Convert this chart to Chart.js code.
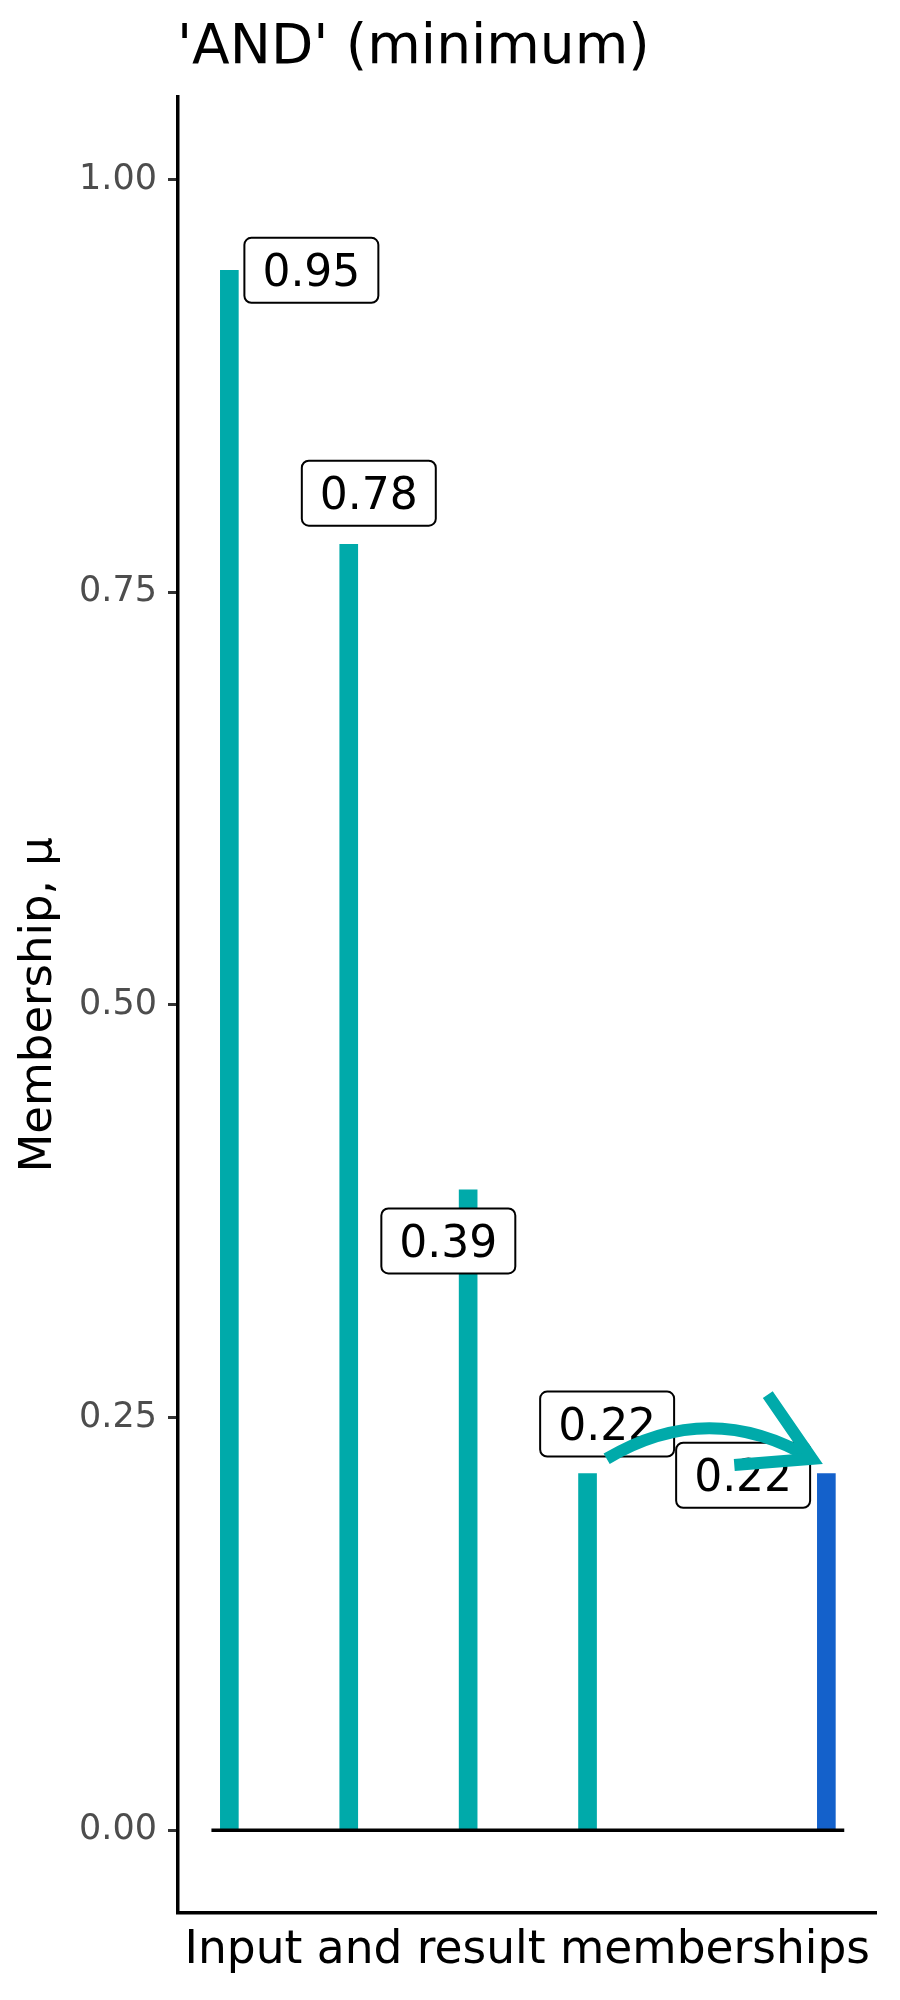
<!DOCTYPE html>
<html><head><meta charset="utf-8">
<script src="https://cdn.jsdelivr.net/npm/chart.js@4/dist/chart.umd.min.js"></script>
<style>html,body{margin:0;padding:0;background:#fff;} canvas{display:block;}</style>
</head><body>
<canvas id="c" width="900" height="2000"></canvas>
<script>
// ---- data ----
const categories = ['Input 1', 'Input 2', 'Input 3', 'Input 4', 'Result'];
const xPositions = [1, 2, 3, 4, 6];
const memberships = [0.945, 0.779, 0.388, 0.216, 0.216];
const barColors = ['#00AAAA', '#00AAAA', '#00AAAA', '#00AAAA', '#1461CB'];
const labelTexts = ['0.95', '0.78', '0.39', '0.22', '0.22'];
const labelX = [1.687, 2.168, 2.834, 4.164, 5.303];
const labelY = [0.945, 0.810, 0.357, 0.246, 0.215];
const yTicks = [0, 0.25, 0.5, 0.75, 1];
const baselineX = [0.85, 6.15];
const arrowFrom = [4.16, 0.225];
const arrowTo = [5.88, 0.225];
const arrowApexY = 0.2435;
const titleText = "'AND' (minimum)";
const xTitle = 'Input and result memberships';
const yTitle = 'Membership, \u03bc';

const FONT = "'DejaVu Sans', 'Liberation Sans', sans-serif";
const TEAL = '#00AAAA';

const barData = xPositions.map((x, i) => ({ x: x, y: memberships[i] }));
const baseData = baselineX.map(x => ({ x: x, y: 0 }));

const overlay = {
  id: 'overlay',
  afterDatasetsDraw(chart) {
    const ctx = chart.ctx, xs = chart.scales.x, ys = chart.scales.y;
    ctx.save();
    // labels
    const fs = 44;
    ctx.font = fs + 'px ' + FONT;
    labelTexts.forEach((t, i) => {
      const cx = xs.getPixelForValue(labelX[i]);
      const cy = ys.getPixelForValue(labelY[i]);
      const tw = ctx.measureText(t).width;
      const w = tw + 36, h = 65, r = 7;
      const x = cx - w / 2, y = cy - h / 2;
      ctx.beginPath();
      ctx.roundRect(x, y, w, h, r);
      ctx.fillStyle = '#ffffff';
      ctx.fill();
      ctx.lineWidth = 2;
      ctx.strokeStyle = '#000000';
      ctx.stroke();
      ctx.fillStyle = '#000000';
      ctx.textAlign = 'center';
      ctx.textBaseline = 'alphabetic';
      ctx.fillText(t, cx, cy + fs * 0.729 / 2);
    });
    // arrow
    const x0 = xs.getPixelForValue(arrowFrom[0]), y0 = ys.getPixelForValue(arrowFrom[1]);
    const x2 = xs.getPixelForValue(arrowTo[0]), y2 = ys.getPixelForValue(arrowTo[1]);
    const apex = ys.getPixelForValue(arrowApexY);
    const qx = (x0 + x2) / 2, qy = 2 * apex - (y0 + y2) / 2;
    ctx.strokeStyle = TEAL;
    ctx.lineWidth = 12;
    ctx.lineCap = 'butt';
    ctx.beginPath();
    ctx.moveTo(x0, y0);
    ctx.quadraticCurveTo(qx, qy, x2, y2);
    ctx.stroke();
    const t = 0.9;
    const dx = 2 * (1 - t) * (qx - x0) + 2 * t * (x2 - qx);
    const dy = 2 * (1 - t) * (qy - y0) + 2 * t * (y2 - qy);
    const ang = Math.atan2(dy, dx), len = 78, sp = Math.PI / 6;
    ctx.lineJoin = 'miter';
    ctx.beginPath();
    ctx.moveTo(x2 - len * Math.cos(ang + sp), y2 - len * Math.sin(ang + sp));
    ctx.lineTo(x2, y2);
    ctx.lineTo(x2 - len * Math.cos(ang - sp), y2 - len * Math.sin(ang - sp));
    ctx.stroke();
    ctx.restore();
  },
  afterDraw(chart) {
    const ctx = chart.ctx;
    ctx.save();
    ctx.font = '55px ' + FONT;
    ctx.fillStyle = '#000000';
    ctx.textAlign = 'left';
    ctx.textBaseline = 'alphabetic';
    ctx.fillText(titleText, chart.chartArea.left - 1, 63);
    ctx.restore();
  }
};

new Chart(document.getElementById('c'), {
  type: 'bar',
  data: {
    labels: categories,
    datasets: [
      {
        type: 'line',
        data: baseData,
        borderColor: '#000000',
        borderWidth: 3.5,
        pointRadius: 0,
        fill: false,
        order: 0
      },
      {
        type: 'bar',
        data: barData,
        backgroundColor: barColors,
        barThickness: 18,
        order: 1
      }
    ]
  },
  options: {
    responsive: false,
    animation: false,
    devicePixelRatio: 1,
    layout: { padding: { top: 97, right: 23.5, bottom: 0, left: 0 } },
    plugins: { legend: { display: false }, tooltip: { enabled: false }, title: { display: false } },
    scales: {
      x: {
        type: 'linear',
        min: 0.57,
        max: 6.42,
        offset: false,
        grid: { display: false, offset: false },
        ticks: { display: false },
        border: { display: true, color: '#000000', width: 3.5 },
        title: {
          display: true, text: xTitle, color: '#000000',
          font: { family: FONT, size: 45.5 }, padding: { top: 0, bottom: 22 }
        },
        afterFit(scale) { scale.height = 87.3; }
      },
      y: {
        type: 'linear',
        min: -0.05,
        max: 1.05,
        afterBuildTicks(scale) { scale.ticks = yTicks.map(v => ({ value: v })); },
        ticks: {
          color: '#4D4D4D',
          font: { family: FONT, size: 35 },
          padding: 11,
          callback: v => Number(v).toFixed(2)
        },
        grid: { display: true, drawOnChartArea: false, drawTicks: true, tickLength: 10, tickWidth: 3, tickColor: '#333333' },
        border: { display: true, color: '#000000', width: 3.5 },
        title: {
          display: true, text: yTitle, color: '#000000',
          font: { family: FONT, size: 45 }, padding: { top: 12.4, bottom: 0 }
        },
        afterFit(scale) { scale.width = 178; }
      }
    }
  },
  plugins: [overlay]
});
</script>
</body></html>
